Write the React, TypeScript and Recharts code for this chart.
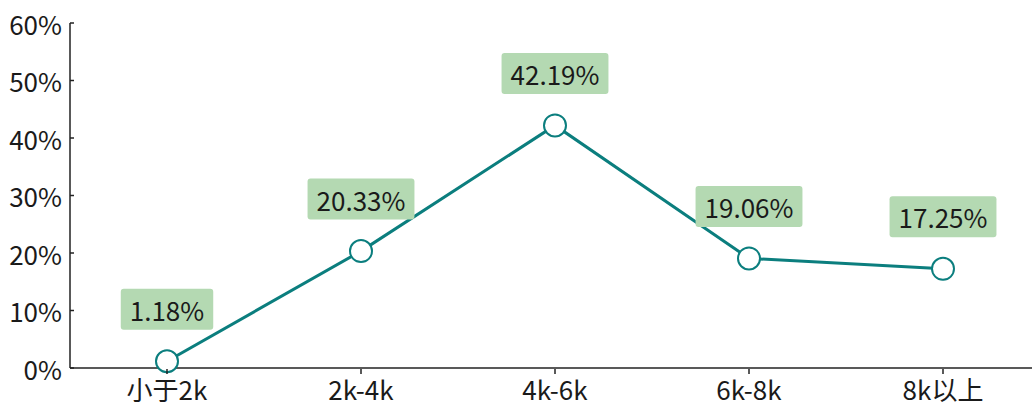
import React from "react";
import { LineChart, Line, XAxis, YAxis, LabelList } from "recharts";

const categories = ["小于2k", "2k-4k", "4k-6k", "6k-8k", "8k以上"];
const values = [1.18, 20.33, 42.19, 19.06, 17.25];
const yTicks = [0, 10, 20, 30, 40, 50, 60];

const data = categories.map((c, i) => ({ name: c, value: values[i] }));

const FONT = '"Noto Sans CJK SC", "Noto Sans", sans-serif';
const FS = 26;
const LINE = "#0b7e7e";
const BOX = "#b4d9b2";
const TXT = "#1a1a1a";

let ctx: CanvasRenderingContext2D | null = null;
function measure(t: string): number {
  if (!ctx && typeof document !== "undefined") {
    ctx = document.createElement("canvas").getContext("2d");
  }
  if (ctx) {
    ctx.font = `${FS}px ${FONT}`;
    return ctx.measureText(t).width;
  }
  return t.length * FS * 0.55;
}

const YTick = (props: any) => {
  const { x, y, payload } = props;
  return (
    <g>
      <line x1={x + 8} x2={x + 12} y1={y} y2={y} stroke="#222" strokeWidth={1.5} />
      <text x={x} y={y} textAnchor="end" dominantBaseline="central" fontSize={FS} fontFamily={FONT} fill={TXT}>
        {payload.value}%
      </text>
    </g>
  );
};

const XTick = (props: any) => {
  const { x, y, payload } = props;
  return (
    <g>
      <line x1={x} x2={x} y1={y - 6} y2={y - 11} stroke="#222" strokeWidth={1.5} />
      <text x={x} y={y} textAnchor="middle" dy="0.78em" fontSize={FS} fontFamily={FONT} fill={TXT}>
        {payload.value}
      </text>
    </g>
  );
};

const BoxLabel = (props: any) => {
  const { x, y, value } = props;
  const t = `${Number(value).toFixed(2)}%`;
  const w = measure(t) + 18;
  const h = 41;
  const cy = y - 52;
  return (
    <g>
      <rect x={x - w / 2} y={cy - h / 2} width={w} height={h} rx={3} ry={3} fill={BOX} />
      <text x={x} y={cy} textAnchor="middle" dominantBaseline="central" fontSize={FS} fontFamily={FONT} fill={TXT}>
        {t}
      </text>
    </g>
  );
};

export default function App() {
  return (
    <div style={{ position: "absolute", left: 0, top: 0, width: 1032, height: 404, background: "#fff", overflow: "hidden" }}>
      <LineChart width={1040} height={404} data={data} margin={{ top: 23, right: 0, bottom: 0, left: 0 }}>
        <XAxis
          dataKey="name"
          scale="band"
          height={36}
          axisLine={{ stroke: "#222", strokeWidth: 1.5 }}
          tickLine={false}
          tickMargin={6}
          tick={<XTick />}
          interval={0}
        />
        <YAxis
          domain={[0, 60]}
          ticks={yTicks}
          width={70}
          axisLine={{ stroke: "#222", strokeWidth: 1.5 }}
          tickLine={false}
          tickSize={0}
          tickMargin={8}
          tick={<YTick />}
          interval={0}
        />
        <Line
          type="linear"
          dataKey="value"
          stroke={LINE}
          strokeWidth={3}
          dot={{ r: 11, fill: "#fff", stroke: LINE, strokeWidth: 2 }}
          activeDot={false}
          isAnimationActive={false}
        >
          <LabelList dataKey="value" content={<BoxLabel />} />
        </Line>
      </LineChart>
    </div>
  );
}
